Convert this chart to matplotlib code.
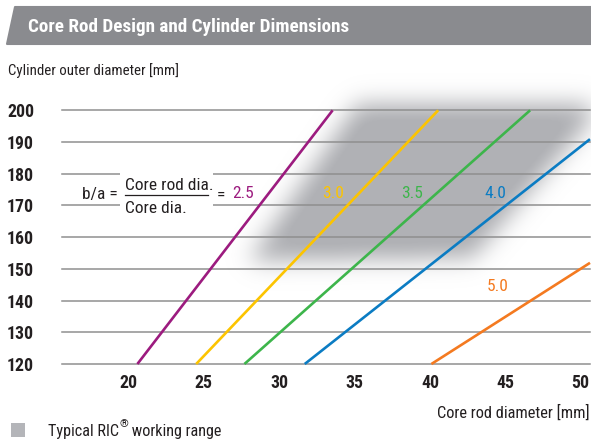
import numpy as np
import matplotlib
matplotlib.use("Agg")
import matplotlib.pyplot as plt
from matplotlib.path import Path
from matplotlib.patches import Polygon, Rectangle

# ---------------- data ----------------
ratio_labels = ["2.5", "3.0", "3.5", "4.0", "5.0"]
rod_start = [20.6, 24.5, 27.7, 31.7, 40.1]      # core rod dia at start [mm]
rod_end = [33.55, 40.55, 46.65, 50.62, 50.62]   # core rod dia at end [mm]
cyl_start = [120, 120, 120, 120, 120]           # cylinder outer dia at start
cyl_end = [200, 200, 200, 190.9, 151.9]         # cylinder outer dia at end
line_colors = ["#9c1b7f", "#fcc400", "#3db54b", "#0b7cc3", "#f47a20"]

x_ticks = [20, 25, 30, 35, 40, 45, 50]
y_ticks = [120, 130, 140, 150, 160, 170, 180, 190, 200]

# typical RIC working range (approximate polygon, data coords)
range_x = [35.2, 51.6, 42.8, 28.0]
range_y = [202.0, 202.0, 153.5, 152.5]

# ---------------- style ----------------
W, H = 591, 441
FONT = ["Roboto Condensed", "DejaVu Sans"]
plt.rcParams["font.family"] = FONT
TXT = "#231f20"

fig = plt.figure(figsize=(W / 100, H / 100), dpi=100)
fig.patch.set_facecolor("white")

# axes box in pixels
L, R, T, B = 61.7, 590.0, 110.3, 364.0
ax = fig.add_axes([L / W, (H - B) / H, (R - L) / W, (B - T) / H], zorder=1)
ax.set_facecolor("none")
ax.set_xlim(15.58, 50.62)
ax.set_ylim(120, 200)
for s in ax.spines.values():
    s.set_visible(False)

ax.set_yticks(y_ticks)
ax.set_yticklabels([str(v) for v in y_ticks], fontweight="bold", fontsize=12.8, color=TXT)
ax.set_xticks(x_ticks)
ax.set_xticklabels([str(v) for v in x_ticks], fontweight="bold", fontsize=12.8, color=TXT)
ax.tick_params(axis="y", length=0, pad=20)
ax.tick_params(axis="x", length=0, pad=7)
ax.grid(axis="y", color="#8f8f8f", linewidth=1.1)
ax.grid(axis="x", visible=False)
for gl in ax.get_ygridlines():
    gl.set_clip_on(False)

for xs, xe, ys, ye, c in zip(rod_start, rod_end, cyl_start, cyl_end, line_colors):
    ax.plot([xs, xe], [ys, ye], color=c, linewidth=1.9, solid_capstyle="butt",
            clip_on=False, zorder=3)

# ratio labels (3.0, 3.5, 4.0, 5.0) positions in data coords
lab_pos = {"3.0": (33.57, 173.9), "3.5": (38.81, 173.9), "4.0": (44.32, 173.9), "5.0": (44.52, 144.4)}
for lab, c in zip(ratio_labels, line_colors):
    if lab in lab_pos:
        x, y = lab_pos[lab]
        ax.text(x, y, lab, color=c, fontsize=12.5, ha="center", va="center", zorder=4)

# ---------------- background blob (working range) ----------------
bg = fig.add_axes([0, 0, 1, 1], zorder=-1)
bg.set_xlim(0, W)
bg.set_ylim(H, 0)
bg.axis("off")

pts = ax.transData.transform(np.column_stack([range_x, range_y]))
pts[:, 1] = H - pts[:, 1]
path = Path(pts)
yy, xx = np.mgrid[0:H, 0:W]
mask = path.contains_points(np.column_stack([xx.ravel() + 0.5, yy.ravel() + 0.5])).reshape(H, W).astype(float)
sigma = 11.5
k = np.arange(-40, 41)
kern = np.exp(-0.5 * (k / sigma) ** 2)
kern /= kern.sum()
blur = np.apply_along_axis(lambda r: np.convolve(r, kern, mode="same"), 1, mask)
blur = np.apply_along_axis(lambda c: np.convolve(c, kern, mode="same"), 0, blur)
img = np.zeros((H, W, 4))
gray = np.array([176, 177, 181]) / 255.0
img[..., :3] = gray
img[..., 3] = np.clip(blur * 1.08, 0, 1)
bg.imshow(img, extent=(0, W, H, 0), interpolation="bilinear", aspect="auto")

# ---------------- overlay (title, labels, equation, legend) ----------------
ov = fig.add_axes([0, 0, 1, 1], zorder=5)
ov.set_xlim(0, W)
ov.set_ylim(H, 0)
ov.axis("off")
ov.set_facecolor("none")

# title bar
bar = Polygon([(15, 7), (W + 2, 7), (W + 2, 44), (6.5, 44)], closed=True,
              facecolor="#8a8b8f", edgecolor="#8a8b8f", linewidth=1.5, joinstyle="round")
ov.add_patch(bar)
ov.text(28, 26.5, "Core Rod Design and Cylinder Dimensions", color="white",
        fontsize=13.8, fontweight="bold", ha="left", va="center")

ov.text(8, 71, "Cylinder outer diameter [mm]", color=TXT, fontsize=10.7,
        ha="left", va="center")
ov.text(590, 413, "Core rod diameter [mm]", color=TXT, fontsize=11.8,
        ha="right", va="center")

# equation
ov.add_patch(Rectangle((120, 168), 93, 45, facecolor="white", edgecolor="none"))
ov.text(118, 195, "b/a =", color=TXT, fontsize=12.5, ha="right", va="center")
ov.text(125, 185.5, "Core rod dia.", color=TXT, fontsize=12.5, ha="left", va="center")
ov.plot([125, 208], [195.3, 195.3], color=TXT, linewidth=0.9)
ov.text(125, 208.5, "Core dia.", color=TXT, fontsize=12.5, ha="left", va="center")
ov.text(217, 195, "=", color=TXT, fontsize=12.5, ha="left", va="center")
ov.text(243, 194, ratio_labels[0], color=line_colors[0], fontsize=12.5, ha="center", va="center")

# legend
ov.add_patch(Rectangle((11, 423), 14, 14, facecolor="#b4b5b9", edgecolor="none"))
t1 = ov.text(48, 431.5, "Typical RIC", color=TXT, fontsize=11.6, ha="left", va="center")
fig.canvas.draw()
r = fig.canvas.get_renderer()
bb = t1.get_window_extent(r)
t2 = ov.text(bb.x1 + 0.3, 424.5, "®", color=TXT, fontsize=8, ha="left", va="center")
bb2 = t2.get_window_extent(r)
ov.text(bb2.x1 + 0.3, 431.5, " working range", color=TXT, fontsize=11.6, ha="left", va="center")

fig.savefig("out.png", dpi=100, facecolor="white")
